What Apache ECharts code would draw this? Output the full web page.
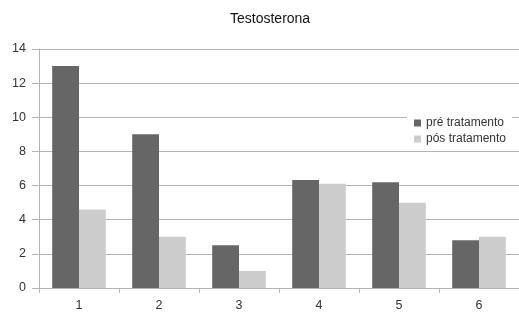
<!DOCTYPE html>
<html>
<head>
<meta charset="utf-8">
<script src="https://cdn.jsdelivr.net/npm/echarts@6/dist/echarts.min.js"></script>
<style>
	html, body { margin: 0; padding: 0; background: #fff; }
	#chart { width: 519px; height: 315px; }
</style>
</head>
<body>
<div id="chart"></div>
<script>
var categories = ['1', '2', '3', '4', '5', '6'];
var preTratamento = [13, 9, 2.5, 6.33, 6.2, 2.8];
var posTratamento = [4.6, 3, 1, 6.1, 5, 3];
var yTicks = [0, 2, 4, 6, 8, 10, 12, 14];

var myChart = echarts.init(document.getElementById('chart'));

var option = {
	backgroundColor : '#fff',
	animation : false,
	title : {
		text : 'Testosterona',
		left : 225,
		top : 7,
		textStyle : {
			color : '#111',
			fontSize : 14,
			fontWeight : 'normal',
			fontFamily : 'Liberation Sans'
		}
	},
	legend : {
		orient : 'vertical',
		left : 407,
		top : 114,
		itemWidth : 7,
		itemHeight : 7,
		itemGap : 4,
		icon : 'rect',
		backgroundColor : '#fff',
		padding : [3, 6, 3, 7],
		textStyle : {
			color : '#333',
			fontSize : 12,
			fontFamily : 'Liberation Sans'
		},
		data : ['pré tratamento', 'pós tratamento']
	},
	grid : {
		left : 39,
		right : -2,
		top : 49,
		bottom : 27
	},
	xAxis : {
		type : 'category',
		data : categories,
		axisLine : {
			lineStyle : { color : '#b3b3b3' }
		},
		axisTick : {
			show : true,
			length : 5,
			lineStyle : { color : '#b3b3b3' }
		},
		axisLabel : {
			color : '#333',
			fontSize : 12.5,
			fontFamily : 'Liberation Sans',
			margin : 11
		}
	},
	yAxis : {
		type : 'value',
		min : yTicks[0],
		max : yTicks[yTicks.length - 1],
		interval : 2,
		axisLine : {
			show : true,
			lineStyle : { color : '#b3b3b3' }
		},
		axisTick : {
			show : true,
			length : 7,
			lineStyle : { color : '#b3b3b3' }
		},
		axisLabel : {
			color : '#333',
			fontSize : 12.5,
			fontFamily : 'Liberation Sans',
			margin : 13
		},
		splitLine : {
			show : true,
			lineStyle : { color : '#b3b3b3' }
		}
	},
	series : [ {
		name : 'pré tratamento',
		type : 'bar',
		data : preTratamento,
		barGap : '0%',
		barCategoryGap : '33%',
		itemStyle : { color : '#666666' }
	}, {
		name : 'pós tratamento',
		type : 'bar',
		data : posTratamento,
		itemStyle : { color : '#cccccc' }
	} ]
};

myChart.setOption(option);
</script>
</body>
</html>
